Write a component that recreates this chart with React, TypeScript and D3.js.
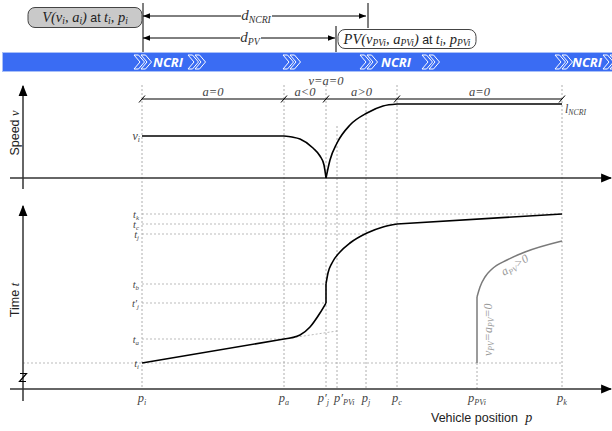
import React from 'react';
import * as d3 from 'd3';

const SERIF = "'Liberation Serif', 'DejaVu Serif', serif";
const SANS = "'Liberation Sans', Arial, sans-serif";

// positions along the road (label = base|sub, prime marked with ')
const positionNames = ['p|i', 'p|a', "p'|j", "p'|PVi", 'p|j', 'p|c', 'p|PVi', 'p|k'];
const positionValues = [0, 142, 184, 195, 224, 255, 335, 420];
// top of each vertical guide, in speed units (null = starts at t_i)
const guideTops = [93, 93, 93, 52, 76, 93, null, 93];

// time marks
const timeNames = ['t|i', 't|a', "t'|j", 't|b', 't|j', 't|c', 't|k'];
const timeValues = [0, 24, 60, 79, 129, 139, 149];
const timeGuideEnds = [420, 142, 184, 184, 224, 255, 420];

// speed profile
const speedPieces = [
  [[0, 42], [142, 42]],
  [[142, 42], [150, 41], [158, 39], [171, 30], [178, 22], [182, 13], [184, 0]],
  [[184, 0], [188, 18], [195, 35], [208, 53], [225, 65], [241, 72], [255, 74]],
  [[255, 74], [420, 74]],
];
const phaseBounds = [0, 142, 184, 255, 420];
const phaseLabels = ['a=0', 'a<0', 'a>0', 'a=0'];
const phaseLevel = 79;
const speedMarks = { vi: 42, limit: 74, stop: 97 };

// time-position trajectory
const timePieces = [
  [[0, 0], [142, 24]],
  [[142, 24], [158, 28], [168, 36], [178, 50], [184, 60]],
  [[184, 60], [184, 79]],
  [[184, 79], [186, 90], [190, 100], [198, 111], [208, 120], [225, 130], [241, 136], [255, 139]],
  [[255, 139], [420, 149]],
];
const timeExtension = [[142, 24], [195, 32]];
const pvPieces = [
  [[335, 0], [335, 66]],
  [[335, 66], [338, 76], [343, 86], [350, 94], [365, 103], [383, 111], [420, 122]],
];

// NCRI band
const chevronPositions = [134, 188, 283, 360, 422, 555, 603];
const ncriLabels = [168, 396, 587];

// distances on top
const dNcriEnd = 226;
const dPvEnd = 195;

const x = d3.scaleLinear().domain([0, 420]).range([142, 562]);
const ySpeed = d3.scaleLinear().domain([0, 42]).range([178, 136]);
const yTime = d3.scaleLinear().domain([0, 149]).range([363, 214]);

const AXIS_X = 23;
const TIME_AXIS_Y = 389;

const lineGen = (s: d3.ScaleLinear<number, number>, curved: boolean) =>
  d3.line<number[]>()
    .x(d => x(d[0]))
    .y(d => s(d[1]))
    .curve(curved ? d3.curveMonotoneX : d3.curveLinear);

type Part = { t: string; sub?: boolean; sans?: boolean };

// rich text: italic serif with subscripts, optional upright sans pieces
function Rich({ x: px, y, parts, size = 12, anchor = 'start', fill = '#222', transform }: any) {
  const off = size * 0.2;
  let down = false;
  return (
    <text x={px} y={y} textAnchor={anchor} fontFamily={SERIF} fontStyle="italic" fontSize={size} fill={fill} transform={transform}>
      {(parts as Part[]).map((p, i) => {
        const dy = p.sub && !down ? off : !p.sub && down ? -off : 0;
        down = !!p.sub;
        return (
          <tspan key={i} dy={dy || undefined} fontSize={p.sub ? size * 0.65 : p.sans ? size * 0.85 : undefined}
            fontFamily={p.sans ? SANS : undefined} fontStyle={p.sans ? 'normal' : undefined}>
            {p.t}
          </tspan>
        );
      })}
    </text>
  );
}

const symParts = (label: string): Part[] => {
  const [b, s] = label.split('|');
  const base = b.endsWith("'") ? b.slice(0, -1) + '′' : b;
  return [{ t: base }, { t: s, sub: true }];
};

function chevron(cx: number, top: number, bot: number) {
  const mid = (top + bot) / 2;
  const t = 4.5, d = 6;
  const one = (x0: number) =>
    `M${x0},${top}L${x0 + t},${top}L${x0 + t + d},${mid}L${x0 + t},${bot}L${x0},${bot}L${x0 + d},${mid}Z`;
  return one(cx) + one(cx + 7);
}

export default function App() {
  const speedLine = lineGen(ySpeed, true);
  const speedLin = lineGen(ySpeed, false);
  const timeLine = lineGen(yTime, true);
  const timeLin = lineGen(yTime, false);

  return (
    <svg width={612} height={431} style={{ position: 'absolute', left: 0, top: 0, background: '#fff' }}>
      <defs>
        <marker id="ah" viewBox="0 0 10 10" refX="10" refY="5" markerWidth="7" markerHeight="7" orient="auto-start-reverse" markerUnits="userSpaceOnUse">
          <path d="M0,1L10,5L0,9Z" fill="#000" />
        </marker>
        <marker id="axh" viewBox="0 0 10 10" refX="9" refY="5" markerWidth="11" markerHeight="11" orient="auto" markerUnits="userSpaceOnUse">
          <path d="M0,1L10,5L0,9Z" fill="#000" />
        </marker>
      </defs>

      {/* distance arrows */}
      <line x1={x(0) + 1} x2={x(0) + 1} y1={3} y2={52} stroke="#000" strokeWidth={1} />
      <line x1={x(dNcriEnd)} x2={x(dNcriEnd)} y1={3} y2={28} stroke="#000" strokeWidth={1} />
      <line x1={x(dPvEnd) - 1} x2={x(dPvEnd) - 1} y1={26} y2={52} stroke="#000" strokeWidth={1} />
      <line x1={x(0) + 1} x2={x(dNcriEnd) - 2} y1={16} y2={16} stroke="#000" strokeWidth={1}
        markerStart="url(#ah)" markerEnd="url(#ah)" />
      <line x1={x(0) + 1} x2={x(dPvEnd) - 2} y1={38} y2={38} stroke="#000" strokeWidth={1}
        markerStart="url(#ah)" markerEnd="url(#ah)" />
      <rect x={241} y={8} width={31} height={16} fill="#fff" />
      <Rich x={256} y={20} anchor="middle" size={15} fill="#333" parts={[{ t: 'd' }, { t: 'NCRI', sub: true }]} />
      <rect x={240} y={30} width={21} height={16} fill="#fff" />
      <Rich x={250} y={42} anchor="middle" size={15} fill="#333" parts={[{ t: 'd' }, { t: 'PV', sub: true }]} />

      {/* callouts */}
      <rect x={28} y={7.5} width={114} height={20} rx={7} fill="#c9c9c9" stroke="#444" strokeWidth={1} />
      <Rich x={85} y={21.5} anchor="middle" size={14.5} fill="#222"
        parts={[{ t: 'V(v' }, { t: 'i', sub: true }, { t: ', a' }, { t: 'i', sub: true }, { t: ')' },
          { t: ' at ', sans: true }, { t: 't' }, { t: 'i', sub: true }, { t: ', p' }, { t: 'i', sub: true }]} />
      <rect x={338} y={29.5} width={138} height={19} rx={7} fill="#fff" stroke="#444" strokeWidth={1} />
      <Rich x={407} y={43.5} anchor="middle" size={14.5} fill="#222"
        parts={[{ t: 'PV(v' }, { t: 'PVi', sub: true }, { t: ', a' }, { t: 'PVi', sub: true }, { t: ')' },
          { t: ' at ', sans: true }, { t: 't' }, { t: 'i', sub: true }, { t: ', p' }, { t: 'PVi', sub: true }]} />

      {/* NCRI band */}
      <rect x={2.5} y={52.5} width={612} height={19} fill="#3a6cf3" stroke="#a9c0f8" strokeWidth={1} />
      {chevronPositions.map((c, i) => (
        <path key={i} d={chevron(c, 55, 69)} fill="#3a6cf3" stroke="#fff" strokeWidth={1} />
      ))}
      {ncriLabels.map((c, i) => (
        <text key={i} x={c} y={67} textAnchor="middle" fontFamily="'Open Sans', 'Noto Sans', sans-serif"
          fontStyle="italic" fontWeight="bold" fontSize={13} fill="#fff">NCRI</text>
      ))}

      {/* vertical guides */}
      {positionValues.map((p, i) => {
        const top = guideTops[i] === null ? yTime(0) : ySpeed(guideTops[i] as number);
        return (
          <line key={i} x1={x(p)} x2={x(p)} y1={top} y2={TIME_AXIS_Y} stroke="#999" strokeWidth={0.8} strokeDasharray="2,2" />
        );
      })}

      {/* horizontal time guides */}
      {timeValues.map((t, i) => (
        <line key={i} x1={i === 0 ? AXIS_X : x(0)} x2={x(timeGuideEnds[i])} y1={yTime(t)} y2={yTime(t)}
          stroke="#aaa" strokeWidth={0.8} strokeDasharray="2,2" />
      ))}

      {/* speed panel */}
      <line x1={10} x2={611} y1={ySpeed(0)} y2={ySpeed(0)} stroke="#333" strokeWidth={1.5} markerEnd="url(#axh)" />
      <line x1={AXIS_X} x2={AXIS_X} y1={189} y2={86} stroke="#333" strokeWidth={1.5} markerEnd="url(#axh)" />
      <text transform={`translate(19,133) rotate(-90)`} textAnchor="middle" fontFamily={SANS} fontSize={12.5} fill="#222">
        Speed <tspan fontFamily={SERIF} fontStyle="italic">v</tspan>
      </text>
      <line x1={x(0)} x2={x(420)} y1={ySpeed(phaseLevel)} y2={ySpeed(phaseLevel)} stroke="#555" strokeWidth={1.4} />
      {phaseBounds.map((p, i) => (
        <line key={i} x1={x(p) - 3} x2={x(p) + 3} y1={ySpeed(phaseLevel) + 3.5} y2={ySpeed(phaseLevel) - 3.5}
          stroke="#000" strokeWidth={1} />
      ))}
      {phaseLabels.map((l, i) => (
        <text key={i} x={(x(phaseBounds[i]) + x(phaseBounds[i + 1])) / 2} y={ySpeed(phaseLevel) - 3}
          textAnchor="middle" fontFamily={SERIF} fontStyle="italic" fontSize={12.5} fill="#444">{l}</text>
      ))}
      <text x={x(184)} y={ySpeed(speedMarks.stop) + 4} textAnchor="middle" fontFamily={SERIF} fontStyle="italic"
        fontSize={12.5} fill="#444">v=a=0</text>
      {speedPieces.map((pc, i) => (
        <path key={i} d={(pc.length > 2 ? speedLine : speedLin)(pc) as string} fill="none" stroke="#000" strokeWidth={1.6} />
      ))}
      <Rich x={140} y={ySpeed(speedMarks.vi) + 4} anchor="end" size={12} fill="#444" parts={symParts('v|i')} />
      <Rich x={565} y={ySpeed(speedMarks.limit) + 9} size={12} fill="#444" parts={symParts('l|NCRI')} />

      {/* time panel */}
      <line x1={10} x2={611} y1={TIME_AXIS_Y} y2={TIME_AXIS_Y} stroke="#333" strokeWidth={1.5} markerEnd="url(#axh)" />
      <line x1={AXIS_X} x2={AXIS_X} y1={401} y2={206} stroke="#333" strokeWidth={1.5} markerEnd="url(#axh)" />
      <path d="M20,373.5L26.5,373.5L19.5,381.5L26,381.5" fill="none" stroke="#000" strokeWidth={1.2} />
      <text transform={`translate(19,300) rotate(-90)`} textAnchor="middle" fontFamily={SANS} fontSize={12.5} fill="#222">
        Time <tspan fontFamily={SERIF} fontStyle="italic">t</tspan>
      </text>
      <path d={timeLin(timeExtension) as string} fill="none" stroke="#aaa" strokeWidth={0.8} strokeDasharray="2,2" />
      {timePieces.map((pc, i) => (
        <path key={i} d={(pc.length > 2 ? timeLine : timeLin)(pc) as string} fill="none" stroke="#000" strokeWidth={1.6} />
      ))}
      {pvPieces.map((pc, i) => (
        <path key={i} d={(pc.length > 2 ? timeLine : timeLin)(pc) as string} fill="none" stroke="#7a7a7a" strokeWidth={1.5} />
      ))}
      <Rich x={0} y={0} transform={`translate(492,${yTime(7)}) rotate(-90)`} size={12} fill="#999"
        parts={[{ t: 'v' }, { t: 'PV', sub: true }, { t: '=a' }, { t: 'PV', sub: true }, { t: '=0' }]} />
      <Rich x={0} y={0} transform={`translate(504,276) rotate(-31)`} size={12} fill="#999"
        parts={[{ t: 'a' }, { t: 'PV', sub: true }, { t: '>0' }]} />
      {timeValues.map((t, i) => (
        <Rich key={i} x={139} y={yTime(t) + 3.5} anchor="end" size={10.5} fill="#444" parts={symParts(timeNames[i])} />
      ))}

      {/* position labels */}
      {positionValues.map((p, i) => (
        <Rich key={i} x={x(p) + (i === 2 ? 3 : i === 3 ? -3 : 0)} y={402}
          anchor={i === 2 ? 'end' : i === 3 ? 'start' : 'middle'} size={12.5} fill="#444" parts={symParts(positionNames[i])} />
      ))}
      <text x={431} y={422} fontFamily={SANS} fontSize={12.5} fill="#222">
        Vehicle position <tspan dx={4} fontFamily={SERIF} fontStyle="italic" fontSize={14}>p</tspan>
      </text>
    </svg>
  );
}
